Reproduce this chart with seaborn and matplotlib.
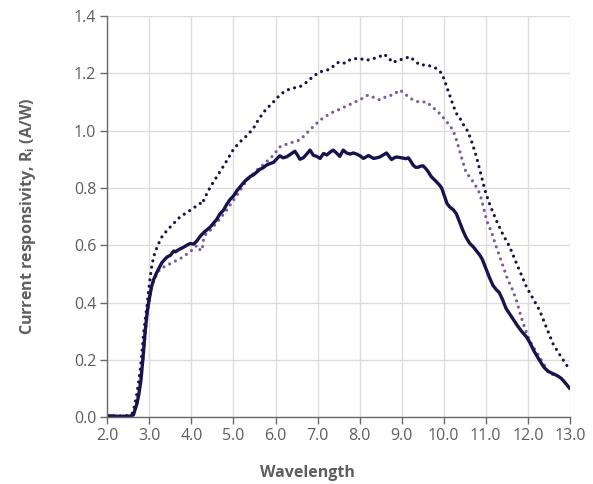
import matplotlib
matplotlib.use("Agg")
import matplotlib.pyplot as plt
import pandas as pd
import seaborn as sns

# solid navy curve
solid_x = [2.0, 2.3, 2.55, 2.62, 2.70, 2.75, 2.80, 2.85, 2.90, 2.95, 3.00, 3.05, 3.10, 3.16, 3.22,
           3.30, 3.42, 3.50, 3.58, 3.62, 3.70, 3.80, 3.89, 3.97, 4.05, 4.13, 4.21, 4.30, 4.38, 4.45,
           4.52, 4.60, 4.68, 4.76, 4.85, 4.92, 5.00, 5.08, 5.16, 5.25, 5.32, 5.40, 5.47, 5.55, 5.63,
           5.70, 5.79, 5.87, 5.95, 6.02, 6.10, 6.18, 6.27, 6.36, 6.46, 6.52, 6.58, 6.66, 6.74, 6.82,
           6.90, 6.98, 7.06, 7.14, 7.22, 7.30, 7.37, 7.45, 7.53, 7.61, 7.69, 7.77, 7.85, 7.93, 8.01,
           8.09, 8.15, 8.21, 8.27, 8.33, 8.40, 8.48, 8.56, 8.64, 8.70, 8.76, 8.82, 8.88, 8.96, 9.04,
           9.10, 9.16, 9.22, 9.27, 9.33, 9.39, 9.45, 9.51, 9.57, 9.63, 9.70, 9.77, 9.83, 9.90, 9.95,
           10.02, 10.08, 10.14, 10.22, 10.30, 10.38, 10.46, 10.54, 10.62, 10.70, 10.78, 10.86, 10.92,
           11.00, 11.08, 11.17, 11.25, 11.32, 11.40, 11.48, 11.57, 11.66, 11.75, 11.85, 11.97, 12.05,
           12.15, 12.28, 12.38, 12.48, 12.60, 12.70, 12.80, 12.90, 13.00]
solid_y = [0.005, 0.003, 0.004, 0.008, 0.045, 0.08, 0.13, 0.21, 0.30, 0.37, 0.415, 0.455, 0.48, 0.50, 0.518,
           0.54, 0.559, 0.565, 0.58, 0.577, 0.585, 0.592, 0.600, 0.606, 0.604, 0.615, 0.632, 0.645, 0.655, 0.664,
           0.676, 0.69, 0.71, 0.722, 0.745, 0.76, 0.772, 0.79, 0.804, 0.82, 0.83, 0.84, 0.845, 0.855, 0.865,
           0.87, 0.88, 0.885, 0.889, 0.90, 0.912, 0.905, 0.909, 0.918, 0.928, 0.915, 0.900, 0.905, 0.918, 0.932,
           0.914, 0.910, 0.903, 0.92, 0.915, 0.925, 0.932, 0.922, 0.910, 0.932, 0.922, 0.918, 0.922, 0.918, 0.912,
           0.903, 0.908, 0.913, 0.908, 0.903, 0.905, 0.908, 0.915, 0.922, 0.910, 0.899, 0.905, 0.908, 0.906, 0.904,
           0.902, 0.905, 0.892, 0.880, 0.872, 0.872, 0.876, 0.877, 0.868, 0.857, 0.84, 0.83, 0.821, 0.81, 0.80,
           0.77, 0.745, 0.734, 0.725, 0.71, 0.68, 0.65, 0.625, 0.606, 0.595, 0.58, 0.565, 0.55,
           0.52, 0.49, 0.46, 0.445, 0.435, 0.41, 0.38, 0.36, 0.34, 0.32, 0.30, 0.28, 0.26,
           0.23, 0.198, 0.175, 0.16, 0.152, 0.145, 0.135, 0.118, 0.10]

# upper dotted navy curve
top_x = [2.0, 2.3, 2.5, 2.58, 2.62, 2.66, 2.70, 2.74, 2.78, 2.82, 2.86, 2.90, 2.94, 2.98, 3.02, 3.06,
         3.10, 3.16, 3.22, 3.30, 3.42, 3.55, 3.73, 3.90, 4.05, 4.15, 4.21, 4.25, 4.30, 4.40, 4.52,
         4.65, 4.80, 5.00, 5.15, 5.30, 5.47, 5.60, 5.75, 5.95, 6.10, 6.25, 6.40, 6.58, 6.75, 6.90,
         7.06, 7.20, 7.30, 7.45, 7.53, 7.65, 7.80, 8.00, 8.15, 8.30, 8.48, 8.55, 8.65, 8.79, 8.90,
         9.05, 9.19, 9.30, 9.43, 9.59, 9.74, 9.85, 9.95, 10.02, 10.07, 10.15, 10.22, 10.30, 10.38,
         10.45, 10.58, 10.68, 10.78, 10.88, 10.98, 11.10, 11.25, 11.40, 11.57, 11.75, 11.97, 12.10,
         12.28, 12.45, 12.60, 12.75, 12.93]
top_y = [0.005, 0.004, 0.006, 0.01, 0.023, 0.05, 0.08, 0.12, 0.163, 0.22, 0.29, 0.34, 0.384, 0.44, 0.489, 0.53,
         0.559, 0.585, 0.606, 0.63, 0.652, 0.672, 0.699, 0.715, 0.73, 0.74, 0.746, 0.742, 0.76, 0.79, 0.82,
         0.85, 0.885, 0.935, 0.96, 0.98, 1.007, 1.04, 1.07, 1.10, 1.124, 1.14, 1.148, 1.153, 1.17, 1.19,
         1.205, 1.21, 1.215, 1.235, 1.24, 1.235, 1.25, 1.252, 1.245, 1.25, 1.258, 1.267, 1.26, 1.237, 1.245,
         1.25, 1.258, 1.245, 1.229, 1.229, 1.223, 1.215, 1.20, 1.175, 1.153, 1.12, 1.09, 1.06, 1.045,
         1.025, 0.996, 0.955, 0.908, 0.85, 0.792, 0.74, 0.687, 0.64, 0.594, 0.53, 0.454, 0.42,
         0.373, 0.31, 0.256, 0.22, 0.18]

# purple dotted curve
purple_x = [2.0, 2.3, 2.55, 2.62, 2.70, 2.78, 2.86, 2.94, 3.02, 3.10, 3.18, 3.26, 3.42, 3.55, 3.73,
            3.85, 3.97, 4.08, 4.13, 4.18, 4.22, 4.26, 4.29, 4.35, 4.45, 4.55, 4.68, 4.85, 5.00, 5.15,
            5.32, 5.50, 5.70, 5.85, 5.95, 6.10, 6.30, 6.58, 6.80, 7.06, 7.30, 7.53, 7.75, 8.00, 8.20,
            8.35, 8.48, 8.65, 8.80, 8.96, 9.10, 9.27, 9.40, 9.59, 9.75, 9.90, 10.05, 10.22, 10.32,
            10.42, 10.54, 10.62, 10.75, 10.86, 10.95, 11.02, 11.15, 11.25, 11.38, 11.50, 11.62, 11.73,
            11.82, 11.92, 12.04, 12.15, 12.28, 12.40, 12.52, 12.68]
purple_y = [0.004, 0.003, 0.004, 0.01, 0.05, 0.11, 0.22, 0.35, 0.43, 0.475, 0.50, 0.518, 0.53, 0.54, 0.553,
            0.565, 0.577, 0.592, 0.60, 0.59, 0.58, 0.59, 0.625, 0.64, 0.652, 0.67, 0.693, 0.725, 0.757, 0.79,
            0.827, 0.855, 0.88, 0.90, 0.914, 0.943, 0.955, 0.967, 1.00, 1.037, 1.06, 1.075, 1.09, 1.107, 1.124,
            1.115, 1.107, 1.12, 1.125, 1.142, 1.125, 1.107, 1.10, 1.10, 1.08, 1.06, 1.035, 1.002, 0.96,
            0.908, 0.85, 0.839, 0.81, 0.78, 0.73, 0.687, 0.64, 0.594, 0.54, 0.489, 0.45, 0.408,
            0.36, 0.314, 0.268, 0.24, 0.21, 0.18, 0.152, 0.146]

x_ticks = [2.0, 3.0, 4.0, 5.0, 6.0, 7.0, 8.0, 9.0, 10.0, 11.0, 12.0, 13.0]
y_ticks = [0.0, 0.2, 0.4, 0.6, 0.8, 1.0, 1.2, 1.4]

NAVY = "#17134d"
PURPLE = "#7d5aa8"
TEXT = "#5e5e5e"

sns.set_theme(style="whitegrid")
plt.rcParams["font.family"] = ["Open Sans", "DejaVu Sans"]
plt.rcParams["mathtext.fontset"] = "custom"
plt.rcParams["mathtext.rm"] = "Open Sans"
plt.rcParams["mathtext.bf"] = "Open Sans:bold"

fig = plt.figure(figsize=(5.93, 4.84), dpi=100)
ax = fig.add_axes([0.181, 0.138, 0.780, 0.829])

dot = dict(linestyle=(0, (0.01, 2.0)), dash_capstyle="round", linewidth=2.3)
sns.lineplot(x=top_x, y=top_y, ax=ax, color=NAVY, sort=False, estimator=None, **dot)
sns.lineplot(x=purple_x, y=purple_y, ax=ax, color=PURPLE, sort=False, estimator=None, **dot)
sns.lineplot(x=solid_x, y=solid_y, ax=ax, color=NAVY, sort=False, estimator=None, linewidth=2.4)

ax.set_xlim(2.0, 13.0)
ax.set_ylim(0.0, 1.4)
ax.set_xticks(x_ticks)
ax.set_yticks(y_ticks)
ax.set_xticklabels([f"{t:.1f}" for t in x_ticks])
ax.set_yticklabels([f"{t:.1f}" for t in y_ticks])
ax.grid(True, color="#dcdcdc", linewidth=1.0)
ax.set_facecolor("white")
for side in ["top", "right"]:
    ax.spines[side].set_visible(False)
for side in ["left", "bottom"]:
    ax.spines[side].set_visible(True)
    ax.spines[side].set_color("#6a6a6a")
    ax.spines[side].set_linewidth(1.0)
ax.tick_params(axis="both", which="both", direction="out", length=5, width=1.0,
               color="#6a6a6a", labelcolor=TEXT, labelsize=11.5, left=True, bottom=True, pad=3)

ax.set_xlabel("Wavelength", fontsize=11.5, fontweight="bold", color=TEXT)
ax.xaxis.set_label_coords(0.432, -0.118)
ax.set_ylabel(r"Current responsivity, R$_\mathbf{i}$ (A/W)", fontsize=11.5, fontweight="bold",
              color=TEXT, labelpad=26)

fig.savefig("out.png", dpi=100, facecolor="white")
